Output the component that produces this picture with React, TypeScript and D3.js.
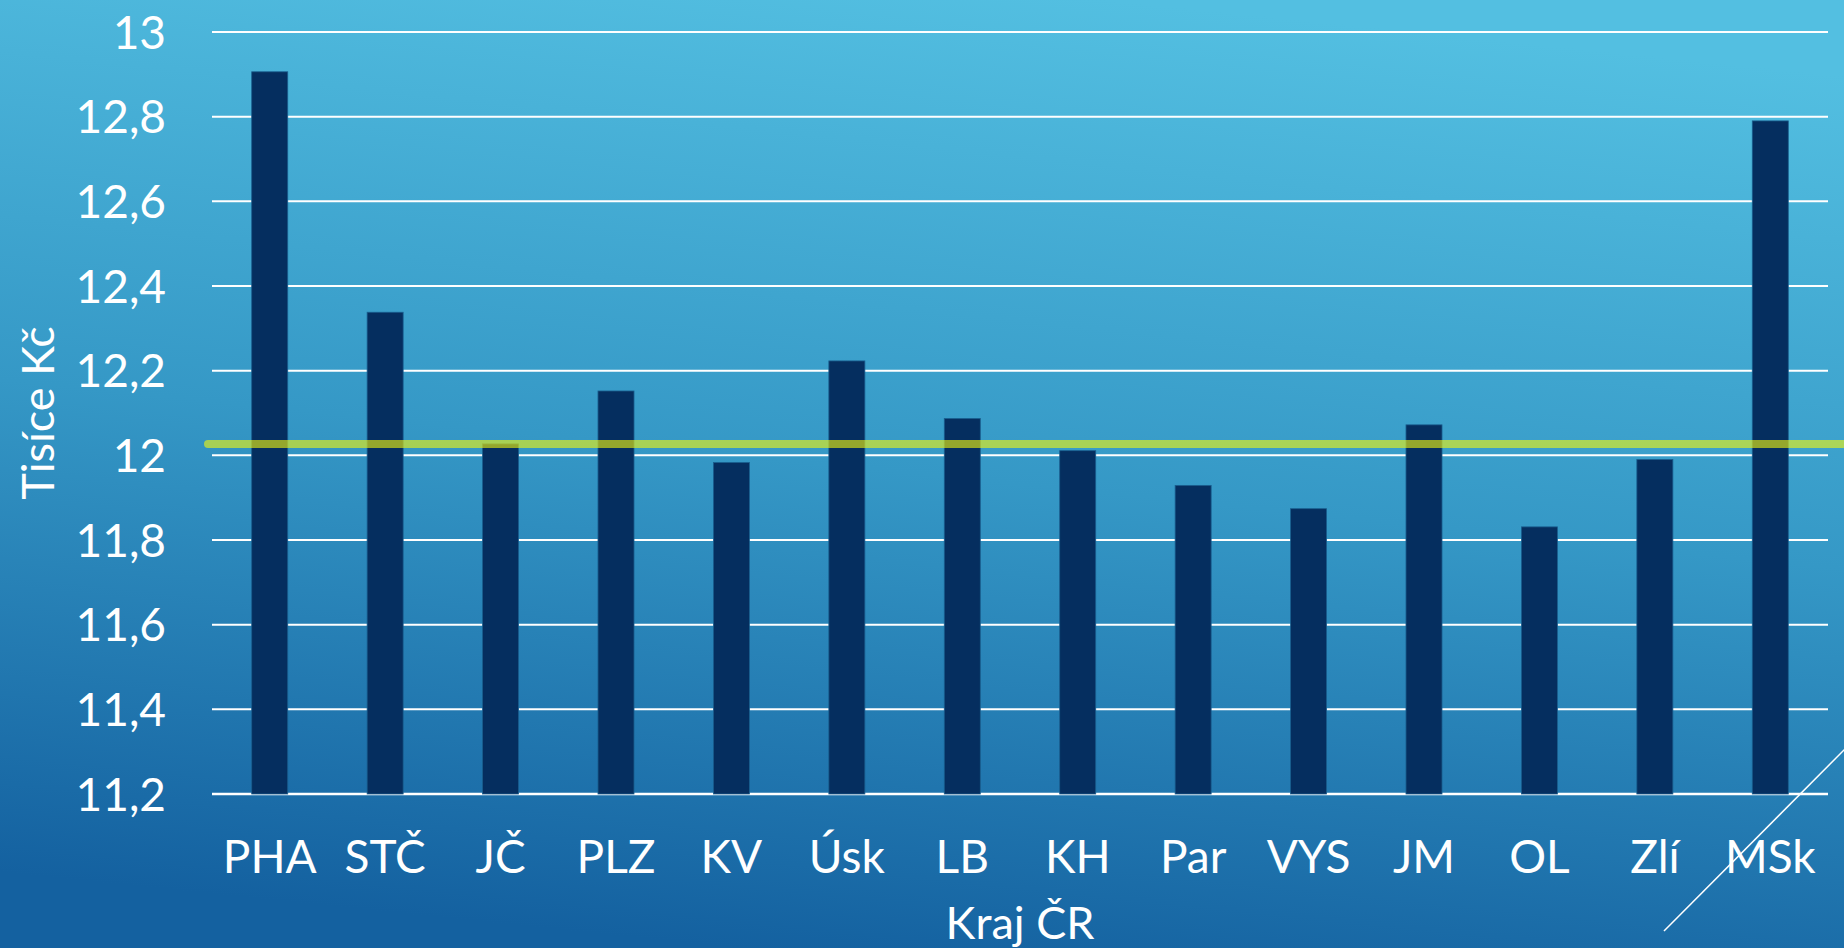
import React, { useEffect, useRef } from "react";
import * as d3 from "d3";

const categories = ["PHA", "STČ", "JČ", "PLZ", "KV", "Úsk", "LB", "KH", "Par", "VYS", "JM", "OL", "Zlí", "MSk"];
const values = [12.906, 12.338, 12.027, 12.152, 11.983, 12.223, 12.087, 12.011, 11.929, 11.874, 12.072, 11.831, 11.99, 12.79];
const average = 12.027;
const yTicks = [11.2, 11.4, 11.6, 11.8, 12, 12.2, 12.4, 12.6, 12.8, 13];
const yTitle = "Tisíce Kč";
const xTitle = "Kraj ČR";

function App() {
  const ref = useRef<SVGSVGElement>(null);

  useEffect(() => {
    drawChart();
  }, []);

  const drawChart = () => {
    const width = 1844;
    const height = 948;
    const margin = { top: 32, right: 16, bottom: 154, left: 212 };
    const font = "Lato, 'Open Sans', sans-serif";

    const svg = d3.select(ref.current);
    svg.selectAll("*").remove();

    // background gradient
    const defs = svg.append("defs");
    const grad = defs
      .append("linearGradient")
      .attr("id", "bg")
      .attr("x1", "0.6")
      .attr("y1", "0")
      .attr("x2", "0.4")
      .attr("y2", "1");
    grad.append("stop").attr("offset", "0%").attr("stop-color", "#53bfe1");
    grad.append("stop").attr("offset", "50%").attr("stop-color", "#3598c6");
    grad.append("stop").attr("offset", "100%").attr("stop-color", "#1461a0");

    svg.append("rect").attr("width", width).attr("height", height).attr("fill", "url(#bg)");

    const x = d3
      .scaleBand()
      .domain(categories)
      .range([margin.left, width - margin.right])
      .paddingInner(0.688)
      .paddingOuter(0.344);

    const y = d3
      .scaleLinear()
      .domain([11.2, 13])
      .range([height - margin.bottom, margin.top]);

    const fmt = (d: number) => String(Math.round(d * 10) / 10).replace(".", ",");

    // gridlines
    svg
      .append("g")
      .selectAll("line")
      .data(yTicks)
      .join("line")
      .attr("x1", margin.left)
      .attr("x2", width - margin.right)
      .attr("y1", d => y(d))
      .attr("y2", d => y(d))
      .attr("stroke", "white")
      .attr("stroke-width", d => (d === 11.2 ? 2.5 : 2));

    // y tick labels
    svg
      .append("g")
      .selectAll("text")
      .data(yTicks)
      .join("text")
      .attr("x", 166)
      .attr("y", d => y(d))
      .attr("dy", "0.36em")
      .attr("text-anchor", "end")
      .attr("fill", "white")
      .style("font-family", font)
      .style("font-size", "46px")
      .text(d => fmt(d));

    // bars
    svg
      .append("g")
      .selectAll("rect")
      .data(values)
      .join("rect")
      .attr("x", (d, i) => x(categories[i]) as number)
      .attr("width", x.bandwidth())
      .attr("y", d => y(d))
      .attr("height", d => y(11.2) - y(d))
      .attr("fill", "#052e5f")
      .attr("stroke", "#1a5e8e")
      .attr("stroke-width", 0.8);

    // average line
    svg
      .append("line")
      .attr("x1", 208)
      .attr("x2", width + 10)
      .attr("y1", y(average))
      .attr("y2", y(average))
      .attr("stroke", "rgb(245,248,10)")
      .attr("stroke-opacity", 0.6)
      .attr("stroke-width", 8)
      .attr("stroke-linecap", "round");

    // x labels
    svg
      .append("g")
      .selectAll("text")
      .data(categories)
      .join("text")
      .attr("x", d => (x(d) as number) + x.bandwidth() / 2)
      .attr("y", 873)
      .attr("text-anchor", "middle")
      .attr("fill", "white")
      .style("font-family", font)
      .style("font-size", "46px")
      .text(d => d);

    // axis titles
    svg
      .append("text")
      .attr("x", (margin.left + width - margin.right) / 2)
      .attr("y", 939)
      .attr("text-anchor", "middle")
      .attr("fill", "white")
      .style("font-family", font)
      .style("font-size", "45px")
      .text(xTitle);

    svg
      .append("text")
      .attr("transform", "translate(54," + (y(11.2) + y(13)) / 2 + ") rotate(-90)")
      .attr("text-anchor", "middle")
      .attr("fill", "white")
      .style("font-family", font)
      .style("font-size", "45px")
      .text(yTitle);

    // decorative diagonal
    svg
      .append("line")
      .attr("x1", 1664)
      .attr("y1", 931)
      .attr("x2", 1846)
      .attr("y2", 748)
      .attr("stroke", "white")
      .attr("stroke-width", 1.5);
  };

  return (
    <div style={{ position: "fixed", left: 0, top: 0 }}>
      <svg ref={ref} width={1844} height={948} style={{ display: "block" }} />
    </div>
  );
}

export default App;
